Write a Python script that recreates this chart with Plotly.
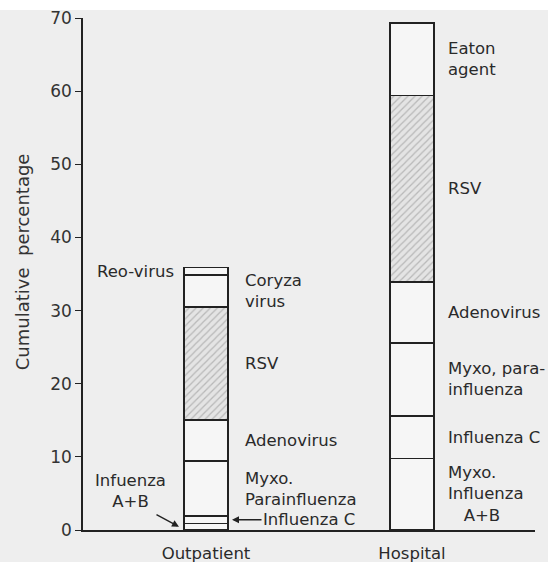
import plotly.graph_objects as go

categories = ["Outpatient", "Hospital"]
# stacked segment heights (percent), bottom to top
outpatient = [0.9, 1.0, 7.5, 5.6, 15.5, 4.4, 1.0]
hospital = [9.8, 5.8, 10.0, 8.3, 25.5, 9.9, 0.0]
hatched_level = 4  # RSV

outpatient_labels = [None, None, "Myxo.<br>Parainfluenza", "Adenovirus", "RSV", "Coryza<br>virus", None]
hospital_labels = ["Myxo.<br>Influenza<br>   A+B", "Influenza C", "Myxo, para-<br>influenza",
                   "Adenovirus", "RSV", "Eaton<br>agent", None]

y_ticks = [0, 10, 20, 30, 40, 50, 60, 70]

W, H = 548, 562
ML, MR, MT, MB = 83, 13, 18, 32
FONT = "DejaVu Sans"
INK = "#222222"
BG = "#eeeeee"
LBL = 16.5

fig = go.Figure()
for lvl in range(len(outpatient)):
    vals = [outpatient[lvl], hospital[lvl]]
    marker = dict(color="#f6f6f6", line=dict(color=INK, width=1.6))
    if lvl == hatched_level:
        marker["pattern"] = dict(shape="/", fgcolor="#8c8c8c", bgcolor="#e4e4e4",
                                 size=5, solidity=0.25)
    fig.add_trace(go.Bar(x=categories, y=vals, width=0.215, marker=marker,
                         showlegend=False, hoverinfo="skip"))

fig.update_layout(
    barmode="stack",
    width=W, height=H,
    margin=dict(l=ML, r=MR, t=MT, b=MB),
    paper_bgcolor=BG, plot_bgcolor=BG,
    font=dict(family=FONT, size=LBL, color="#2a2a2a"),
)
fig.update_xaxes(range=[-0.597, 1.597], showline=True, linecolor=INK, linewidth=1.6,
                 showgrid=False, ticks="", tickfont=dict(size=16.5), automargin=False,
                 ticklabelstandoff=7)
fig.update_yaxes(range=[0, 70], showline=True, linecolor=INK, linewidth=1.6,
                 showgrid=False, zeroline=False, ticks="outside", ticklen=6,
                 tickcolor=INK, tickwidth=1.4, tickvals=y_ticks,
                 tickfont=dict(size=17, color="#333333"), automargin=False)

def cum_mid(vals, i):
    return sum(vals[:i]) + vals[i] / 2

# right-side labels
for cat, vals, labels, dx in [("Outpatient", outpatient, outpatient_labels, 37),
                              ("Hospital", hospital, hospital_labels, 34)]:
    for i, lab in enumerate(labels):
        if lab is None:
            continue
        fig.add_annotation(x=cat, y=cum_mid(vals, i), text=lab, showarrow=False,
                           xanchor="left", align="left", xshift=dx,
                           font=dict(size=LBL))

# Reo-virus (left of outpatient bar)
fig.add_annotation(x="Outpatient", y=cum_mid(outpatient, 6), text="Reo-virus",
                   showarrow=False, xanchor="right", xshift=-30, font=dict(size=LBL))

# Influenza C (outpatient) with arrow pointing left
fig.add_annotation(x="Outpatient", y=cum_mid(outpatient, 1), text="Influenza C",
                   showarrow=True, arrowhead=2, arrowsize=1, arrowwidth=1.4,
                   arrowcolor=INK, xshift=26, ax=77, ay=0, standoff=0,
                   font=dict(size=LBL))

# Infuenza A+B (outpatient) with arrow
fig.add_annotation(x="Outpatient", y=cum_mid(outpatient, 0), text="", showarrow=True,
                   arrowhead=2, arrowsize=1, arrowwidth=1.4, arrowcolor=INK,
                   xshift=-27, ax=-24, ay=-13, standoff=0)
fig.add_annotation(x="Outpatient", y=5.3, text="Infuenza<br>A+B", showarrow=False,
                   xanchor="center", align="center", xshift=-75, font=dict(size=LBL))

# y-axis title
fig.add_annotation(xref="paper", yref="paper", x=(22 - ML) / (W - ML - MR), y=0.523,
                   xanchor="center", yanchor="middle",
                   text="Cumulative  percentage", textangle=-90, showarrow=False,
                   font=dict(size=18, color="#333333"))

# white strip at top of scan
fig.add_shape(type="rect", xref="paper", yref="paper", x0=-0.5, x1=1.5,
              y0=1 + (MT - 10) / (H - MT - MB), y1=1.2, fillcolor="white",
              line=dict(width=0), layer="below")

fig.write_html("out.html", config={"displayModeBar": False},
               post_script="document.body.style.margin='0px';document.body.style.overflow='hidden';")
